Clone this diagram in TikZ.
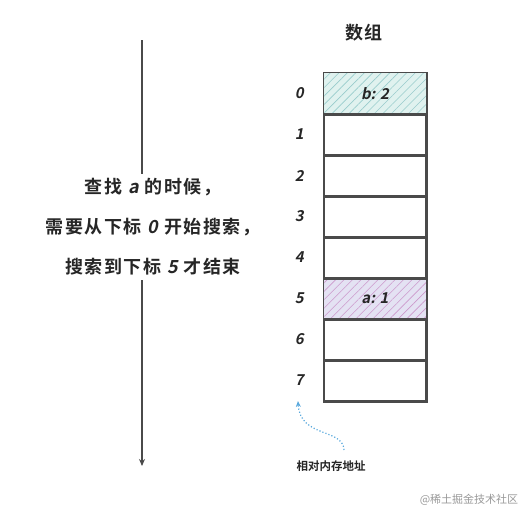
\documentclass[tikz,border=0pt]{standalone}
\usepackage{fontspec}
\usepackage{tikz}
\usetikzlibrary{arrows.meta,positioning,patterns.meta}
\newfontfamily\cjk[BoldFont={Noto Sans CJK SC Bold}]{Noto Sans CJK SC}
\newfontfamily\cjkwide[LetterSpace=9]{Noto Sans CJK SC Bold}
\newfontfamily\hand[FakeSlant=0.2]{Noto Sans CJK SC Bold}
\definecolor{ink}{HTML}{4A4A4A}
\definecolor{mint}{HTML}{E0F2EF}
\definecolor{lilac}{HTML}{E4E2F3}
\definecolor{dotblue}{HTML}{5AA9DD}
\tikzset{
  cell/.style={draw=ink, line width=1.5pt, minimum width=102pt, minimum height=41pt, inner sep=0pt},
  idx/.style={font=\hand\fontsize{15}{15}\selectfont, text=black!85},
  note/.style={font=\cjkwide\fontsize{18}{40}\selectfont, text=black!85}
}
\begin{document}
\begin{tikzpicture}[x=1pt,y=-1pt]
\useasboundingbox (0,0) rectangle (531,522);
% массив
\foreach \i in {0,...,7}{
  \node [cell] (c\i) at (375,{93.5+41*\i}) {};
  \node [idx, left=16pt of c\i] (n\i) {\i};
}
\fill [mint] (c0.south west) rectangle (c0.north east);
\fill [pattern={Lines[angle=45,distance=6pt,line width=0.6pt]}, pattern color=teal!40] (c0.south west) rectangle (c0.north east);
\fill [lilac] (c5.south west) rectangle (c5.north east);
\fill [pattern={Lines[angle=45,distance=6pt,line width=0.6pt]}, pattern color=violet!40] (c5.south west) rectangle (c5.north east);
\foreach \i in {0,...,7}{
  \draw [ink, line width=1.5pt] (c\i.north west) rectangle (c\i.south east);
}
\node [idx] at (c0) {b: 2};
\node [idx] at (c5) {a: 1};
\node [font=\cjkwide\fontsize{18}{18}\selectfont, text=black!85] (title) at (364,33) {数组};
% стрелка
\coordinate (top) at (142,40);
\coordinate (bot) at (142,466);
\draw [-{Stealth[length=7pt,width=6pt]}, ink, line width=1.6pt] (top) -- (bot);
\node [note, fill=white, align=center, inner sep=5pt] (txt) at (153,227)
  {查找 {\hand a} 的时候，\\需要从下标 {\hand 0} 开始搜索，\\搜索到下标 {\hand 5} 才结束};
% подписи
\node [font=\cjk\bfseries\fontsize{11.5}{12}\selectfont, text=black!85] (mem) at (331,466) {相对内存地址};
\coordinate (memtail) at (344,450);
\coordinate (memhead) at (298,401);
\draw [-{Stealth[length=6pt,width=5pt]}, dotblue, line width=1.2pt, dotted]
  (memtail) .. controls (343,428) and (300,438) .. (memhead);
\node [font=\cjk\fontsize{11}{11}\selectfont, text=black!40] (mark) at (469,500) {@稀土掘金技术社区};
\end{tikzpicture}
\end{document}
